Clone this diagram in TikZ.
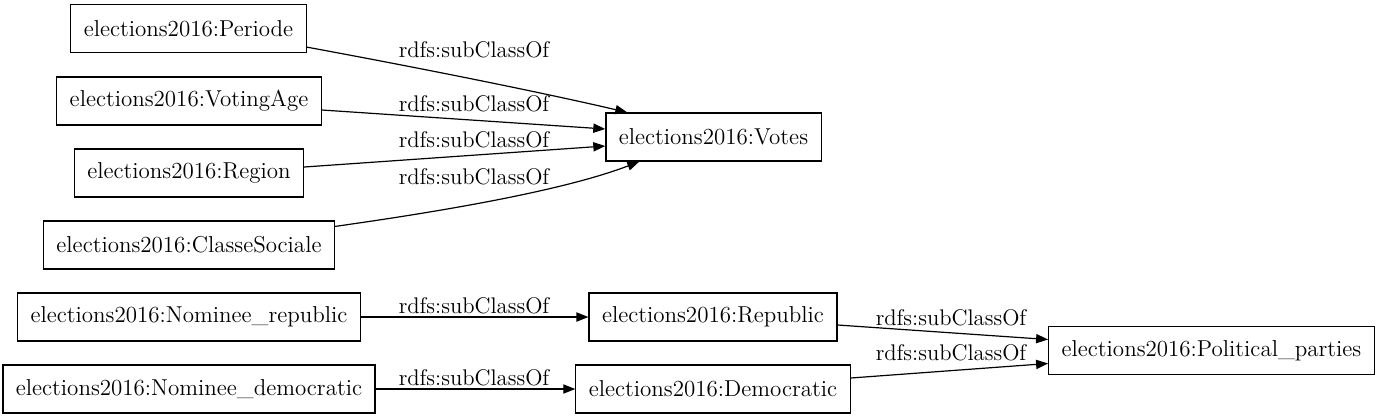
\documentclass[tikz,border=0pt]{standalone}
\usetikzlibrary{arrows.meta,calc}
\tikzset{
  cls/.style={draw, line width=0.6pt, rectangle, minimum height=24pt, inner xsep=6.5pt, font=\fontsize{11.5}{13}\selectfont},
  lbl/.style={inner sep=0pt, font=\fontsize{11.3}{13}\selectfont},
  arr/.style={line width=0.6pt, -{Triangle[length=6pt,width=4.6pt]}}
}
\begin{document}
\begin{tikzpicture}[x=0.5pt, y=-0.5pt]
        \useasboundingbox (0,0) rectangle (1376,419);
        % classes
        \node [cls] (periode) at (188.5,28.5) {elections2016:Periode};
        \node [cls] (votingage) at (189,101) {elections2016:VotingAge};
        \node [cls] (region) at (189,173) {elections2016:Region};
        \node [cls] (classe) at (189,245) {elections2016:ClasseSociale};
        \node [cls] (votes) at (713.5,137) {elections2016:Votes};
        \node [cls] (nomrep) at (189,317) {elections2016:Nominee\_republic};
        \node [cls] (nomdem) at (189,389) {elections2016:Nominee\_democratic};
        \node [cls] (republic) at (713,317) {elections2016:Republic};
        \node [cls] (democratic) at (713,389) {elections2016:Democratic};
        \node [cls] (parties) at (1211.5,350.5) {elections2016:Political\_parties};
        % edges
        \draw [arr] ($(periode.south east)+(0,-6)$) .. controls (420,68) and (540,92) .. ($(votes.north west)+(22,0)$);
        \draw [arr] ($(votingage.east)+(0,9)$) -- ($(votes.west)+(0,-8)$);
        \draw [arr] ($(region.east)+(0,-6)$) -- ($(votes.west)+(0,9)$);
        \draw [arr] ($(classe.north east)+(0,6)$) .. controls (430,213) and (560,192) .. ($(votes.south west)+(34,0)$);
        \draw [arr] (nomrep) -- (republic);
        \draw [arr] (nomdem) -- (democratic);
        \draw [arr] ($(republic.east)+(0,8)$) -- ($(parties.west)+(0,-11)$);
        \draw [arr] ($(democratic.east)+(0,-11)$) -- ($(parties.west)+(0,13)$);
        % labels
        \node [lbl] (l1) at (474,50) {rdfs:subClassOf};
        \node [lbl] (l2) at (474,104) {rdfs:subClassOf};
        \node [lbl] (l3) at (474,140) {rdfs:subClassOf};
        \node [lbl] (l4) at (474,177) {rdfs:subClassOf};
        \node [lbl] (l5) at (474,306) {rdfs:subClassOf};
        \node [lbl] (l6) at (474,378) {rdfs:subClassOf};
        \node [lbl] (l7) at (951,318) {rdfs:subClassOf};
        \node [lbl] (l8) at (951,353) {rdfs:subClassOf};
    \end{tikzpicture}
\end{document}
